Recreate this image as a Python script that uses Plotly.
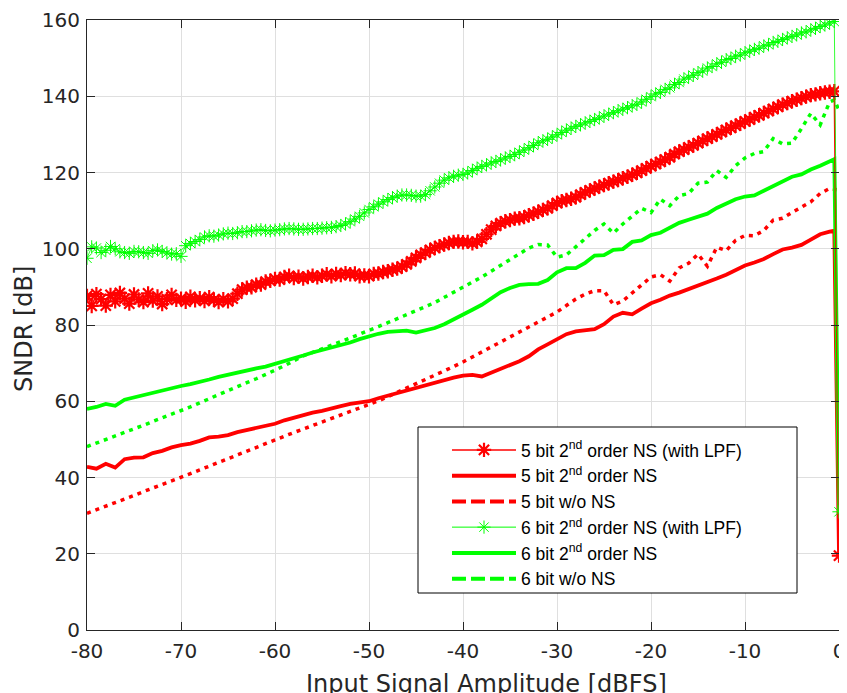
import numpy as np
import plotly.graph_objects as go

# ---------------- data ----------------
# input amplitude sweep (dBFS)
x_fine = np.arange(-80.0, 0.01, 0.5)                       # 0.5 dB grid (161 points)
x_coarse = list(range(-80, 0)) + [-0.5, 0.0]                # 1 dB grid + last points

red_lpf = [
    87.6, 85.0, 88.1, 86.8, 85.1, 87.9, 86.2, 88.4, 86.9, 85.6,
    88.0, 86.7, 86.0, 88.3, 86.4, 87.5, 85.5, 86.8, 87.9, 86.6,
    86.9, 86.1, 87.4, 86.5, 87.0, 86.3, 87.3, 86.6, 86.0, 86.8,
    86.2, 86.9, 88.2, 89.3, 89.8, 89.9, 90.6, 90.6, 91.4, 91.6,
    92.1, 91.9, 92.6, 92.9, 92.3, 92.7, 92.2, 92.6, 92.9, 92.5,
    92.9, 93.3, 92.8, 93.4, 93.1, 93.6, 93.3, 93.5, 92.8, 93.0,
    92.8, 93.4, 93.5, 93.9, 94.1, 94.5, 94.8, 95.3, 95.9, 96.7,
    97.6, 98.4, 99.0, 99.7, 100.2, 100.7, 101.1, 101.5, 101.8, 101.9,
    101.7, 101.8, 101.4, 101.8, 102.6, 103.8, 105.0, 106.0, 106.7, 107.2,
    107.5, 107.9, 108.0, 108.3, 108.8, 109.2, 109.7, 110.2, 110.6, 111.3,
    112.0, 112.5, 112.8, 113.1, 113.5, 114.2, 114.8, 115.3, 115.8, 116.3,
    116.7, 117.2, 117.6, 118.0, 118.5, 118.9, 119.4, 119.9, 120.5, 121.1,
    121.7, 122.2, 122.8, 123.4, 124.0, 124.8, 125.5, 126.0, 126.6, 127.1,
    127.7, 128.3, 128.9, 129.4, 130.0, 130.6, 131.2, 131.7, 132.3, 132.8,
    133.4, 133.9, 134.5, 135.0, 135.6, 136.1, 136.7, 137.2, 137.8, 138.2,
    138.7, 139.1, 139.5, 139.9, 140.3, 140.5, 140.8, 141.0, 141.2, 141.3,
    19.5,
]

green_lpf = [
    97.5, 100.5, 100.2, 99.0, 99.6, 100.6, 100.0, 99.2, 99.0, 98.8,
    99.3, 99.2, 99.0, 98.8, 99.5, 99.7, 99.3, 98.9, 98.6, 98.7,
    98.0, 100.8, 101.4, 101.9, 102.4, 103.1, 103.4, 103.3, 103.6, 103.9,
    104.1, 104.0, 104.2, 104.5, 104.5, 104.7, 104.9, 105.0, 104.8, 104.7,
    104.9, 105.0, 105.2, 105.3, 105.2, 105.1, 105.1, 105.2, 105.3, 105.3,
    105.4, 105.5, 105.6, 105.8, 106.1, 106.5, 107.1, 107.8, 108.5, 109.4,
    110.3, 111.0, 111.7, 112.3, 112.9, 113.4, 113.8, 114.1, 114.1, 114.0,
    113.8, 113.8, 114.2, 115.2, 116.2, 117.2, 118.0, 118.6, 119.0, 119.3,
    119.5, 119.9, 120.5, 121.1, 121.6, 122.0, 122.5, 122.9, 123.3, 123.8,
    124.2, 124.7, 125.3, 125.9, 126.5, 127.1, 127.8, 128.3, 128.7, 129.3,
    129.9, 130.5, 131.1, 131.6, 132.1, 132.5, 133.0, 133.4, 133.9, 134.3,
    134.8, 135.3, 135.7, 136.2, 136.6, 137.0, 137.5, 137.9, 138.5, 139.2,
    139.9, 140.6, 141.0, 141.8, 142.2, 143.1, 143.6, 144.5, 145.0, 145.5,
    146.2, 146.6, 147.4, 147.8, 148.5, 148.9, 149.6, 149.9, 150.5, 150.8,
    151.4, 151.8, 152.3, 152.6, 153.2, 153.5, 154.1, 154.4, 154.9, 155.3,
    155.7, 156.1, 156.6, 156.9, 157.4, 157.8, 158.3, 158.7, 159.2, 159.6,
    31.0,
]

red_ns = [
    42.8, 42.3, 43.6, 42.6, 44.8, 45.2, 45.3, 46.4, 47.0, 47.9,
    48.5, 48.9, 49.6, 50.5, 50.7, 51.1, 51.9, 52.5, 53.0, 53.5,
    54.1, 55.0, 55.7, 56.4, 57.0, 57.5, 58.0, 58.7, 59.3, 59.6,
    60.0, 60.8, 61.5, 62.1, 62.8, 63.5, 64.2, 64.9, 65.6, 66.2,
    66.7, 66.9, 66.5, 67.5, 68.5, 69.6, 70.5, 71.8, 73.6, 74.9,
    76.3, 77.6, 78.3, 78.6, 78.9, 80.2, 82.2, 83.2, 82.8, 84.3,
    85.7, 86.6, 87.7, 88.5, 89.4, 90.2, 91.3, 92.2, 93.2, 94.5,
    95.6, 96.4, 97.3, 98.6, 99.8, 100.3, 101.0, 102.4, 103.8, 104.5,
    104.7, 20.0,
]

red_nons = [
    30.6, 31.5, 32.5, 33.4, 34.4, 35.3, 36.3, 37.2, 38.2, 39.1,
    40.0, 41.0, 42.0, 43.0, 44.0, 45.0, 46.0, 47.0, 48.0, 49.0,
    50.0, 50.9, 51.8, 52.7, 53.6, 54.5, 55.4, 56.3, 57.2, 58.1,
    59.0, 60.1, 61.2, 62.3, 63.5, 64.6, 65.7, 66.8, 67.9, 69.1,
    70.3, 71.6, 72.9, 74.2, 75.4, 76.7, 78.1, 79.4, 80.7, 82.0,
    83.4, 85.1, 86.8, 88.1, 89.0, 89.0, 85.3, 86.3, 88.4, 90.3,
    92.6, 93.2, 91.5, 95.0, 96.2, 98.6, 95.4, 100.4, 99.5, 102.2,
    103.5, 103.4, 104.8, 107.5, 108.0, 109.5, 111.0, 112.3, 114.5, 115.8,
    115.6, 115.4,
]

green_ns = [
    58.0, 58.5, 59.3, 58.8, 60.4, 61.0, 61.7, 62.4, 63.0, 63.6,
    64.0, 64.5, 65.0, 65.7, 66.4, 67.0, 67.5, 68.1, 68.6, 69.1,
    69.8, 70.4, 71.1, 72.0, 72.8, 73.4, 74.0, 74.7, 75.4, 76.3,
    77.1, 77.7, 78.2, 78.4, 78.5, 78.0, 78.7, 79.2, 80.2, 81.4,
    82.7, 84.0, 85.3, 86.9, 88.6, 89.7, 90.5, 90.7, 90.8, 91.8,
    93.8, 94.9, 94.9, 96.3, 98.2, 98.3, 99.7, 99.9, 101.8, 102.2,
    103.6, 104.2, 105.5, 106.8, 107.6, 108.4, 109.2, 110.7, 111.8, 113.0,
    113.7, 114.0, 115.2, 116.5, 117.7, 118.9, 119.5, 120.8, 121.8, 123.1,
    123.5, 31.0,
]

green_nons = [
    48.1, 49.0, 50.0, 51.0, 51.9, 52.8, 53.7, 54.7, 55.6, 56.5,
    57.5, 58.5, 59.6, 60.7, 61.7, 62.8, 63.8, 64.9, 65.9, 67.0,
    68.1, 69.3, 70.6, 71.9, 72.8, 73.7, 74.6, 75.6, 76.6, 77.6,
    78.7, 79.6, 80.6, 81.6, 82.6, 83.7, 84.8, 85.9, 87.2, 88.6,
    89.8, 91.2, 92.6, 94.1, 95.6, 97.1, 98.6, 100.2, 101.1, 101.0,
    97.8, 98.4, 100.5, 102.6, 104.8, 106.5, 104.1, 106.5, 108.7, 110.6,
    109.5, 113.0, 111.3, 113.9, 114.5, 117.2, 117.5, 120.5, 118.7, 121.8,
    123.8, 125.0, 125.5, 128.9, 127.5, 127.7, 131.5, 135.5, 132.5, 138.5,
    139.0, 136.4,
]

legend_names = [
    "5 bit 2<sup>nd</sup> order NS (with LPF)",
    "5 bit 2<sup>nd</sup> order NS",
    "5 bit w/o NS",
    "6 bit 2<sup>nd</sup> order NS (with LPF)",
    "6 bit 2<sup>nd</sup> order NS",
    "6 bit w/o NS",
]
x_ticks = [-80, -70, -60, -50, -40, -30, -20, -10, 0]
x_ticktext = ["-80", "-70", "-60", "-50", "-40", "-30", "-20", "-10", "0"]
y_ticks = [0, 20, 40, 60, 80, 100, 120, 140, 160]
y_ticktext = ["0", "20", "40", "60", "80", "100", "120", "140", "160"]

RED = "#ff0000"
GREEN = "#00ff00"
DOT = "4px,5px"

fig = go.Figure()

# ----- plotted traces (legend handled by proxy traces below) -----
fig.add_trace(go.Scatter(x=x_coarse, y=red_nons, mode="lines", showlegend=False,
                         line=dict(color=RED, width=3.5, dash=DOT)))
fig.add_trace(go.Scatter(x=x_coarse, y=green_nons, mode="lines", showlegend=False,
                         line=dict(color=GREEN, width=3.5, dash=DOT)))
fig.add_trace(go.Scatter(x=x_coarse, y=red_ns, mode="lines", showlegend=False,
                         line=dict(color=RED, width=3.8)))
fig.add_trace(go.Scatter(x=x_coarse, y=green_ns, mode="lines", showlegend=False,
                         line=dict(color=GREEN, width=3.8)))
fig.add_trace(go.Scatter(x=x_fine, y=red_lpf, mode="lines+markers", showlegend=False,
                         line=dict(color=RED, width=1.5),
                         marker=dict(symbol="asterisk-open", size=12,
                                     line=dict(color=RED, width=2.2))))
fig.add_trace(go.Scatter(x=x_fine, y=green_lpf, mode="lines+markers", showlegend=False,
                         line=dict(color=GREEN, width=0.8),
                         marker=dict(symbol="asterisk-open", size=11,
                                     line=dict(color=GREEN, width=1))))

# ----- legend proxies -----
styles = [
    dict(mode="lines+markers", line=dict(color=RED, width=1.5),
         marker=dict(symbol="asterisk-open", size=12, line=dict(color=RED, width=2.2))),
    dict(mode="lines", line=dict(color=RED, width=4)),
    dict(mode="lines", line=dict(color=RED, width=4, dash="14px,5px")),
    dict(mode="lines+markers", line=dict(color=GREEN, width=1),
         marker=dict(symbol="asterisk-open", size=11, line=dict(color=GREEN, width=1))),
    dict(mode="lines", line=dict(color=GREEN, width=4)),
    dict(mode="lines", line=dict(color=GREEN, width=4, dash="14px,5px")),
]
for name, st in zip(legend_names, styles):
    fig.add_trace(go.Scatter(x=[None], y=[None], name=name, showlegend=True, **st))

AX = "#262626"
GRID = "#dfdfdf"
fig.update_xaxes(range=[-80, 0], tickvals=x_ticks, ticktext=x_ticktext,
                 ticks="inside", ticklen=8,
                 tickcolor=AX, showline=True, linecolor=AX, linewidth=1,
                 mirror="ticks", showgrid=True, gridcolor=GRID, gridwidth=1,
                 zeroline=False, automargin=False, ticklabelstandoff=3,
                 tickfont=dict(family="DejaVu Sans", size=20, color=AX))
fig.update_yaxes(range=[0, 160], tickvals=y_ticks, ticktext=y_ticktext,
                 ticks="inside", ticklen=8,
                 tickcolor=AX, showline=True, linecolor=AX, linewidth=1,
                 mirror="ticks", showgrid=True, gridcolor=GRID, gridwidth=1,
                 zeroline=False, automargin=False, ticklabelstandoff=2,
                 tickfont=dict(family="DejaVu Sans", size=20, color=AX))

# The page body adds an 8 px offset; size the figure so the plot area lands on
# screen x 87..839, y 20..630 as in the reference.
OFF = 8
W, H = 847 - OFF, 693 - OFF
L, T = 87 - OFF, 20 - OFF
pw, ph = 752, 610
R, B = W - L - pw, H - T - ph


def px2paper_x(px):
    return (px - OFF - L) / pw


def px2paper_y(py):
    return (T + ph - (py - OFF)) / ph


fig.add_shape(type="rect", xref="paper", yref="paper",
              x0=px2paper_x(418), x1=px2paper_x(797),
              y0=px2paper_y(593), y1=px2paper_y(427),
              line=dict(color="#000000", width=1), fillcolor="white", layer="above")

fig.add_annotation(text="Input Signal Amplitude [dBFS]", xref="paper", yref="paper",
                   x=px2paper_x(486), y=px2paper_y(684), showarrow=False,
                   xanchor="center", yanchor="middle",
                   font=dict(family="DejaVu Sans", size=24, color=AX))
fig.add_annotation(text="SNDR [dB]", xref="paper", yref="paper",
                   x=px2paper_x(24), y=px2paper_y(329), showarrow=False,
                   textangle=-90, xanchor="center", yanchor="middle",
                   font=dict(family="DejaVu Sans", size=24, color=AX))

fig.update_layout(
    width=W, height=H,
    margin=dict(l=L, r=R, t=T, b=B, autoexpand=False),
    paper_bgcolor="white", plot_bgcolor="white",
    legend=dict(x=px2paper_x(447), y=px2paper_y(432), xanchor="left", yanchor="top",
                bgcolor="rgba(0,0,0,0)", borderwidth=0, itemwidth=64,
                tracegroupgap=0,
                font=dict(family="Liberation Sans, Arial", size=17.5, color="#000000")),
)

fig.write_html("out.html")
